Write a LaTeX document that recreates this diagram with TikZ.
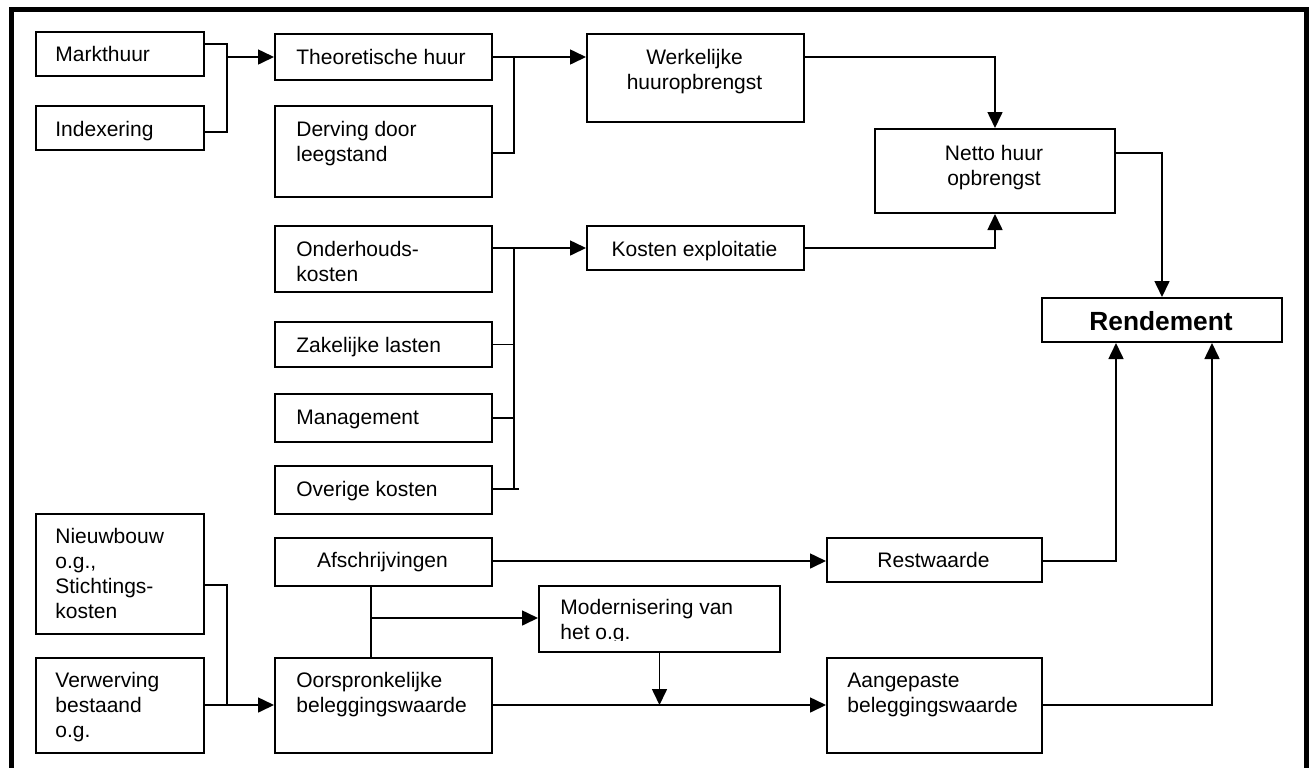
\documentclass[tikz,border=0pt]{standalone}
\usepackage{fontspec}
\setmainfont{Liberation Sans}
\usetikzlibrary{arrows.meta}
% multi-line text blocks whose baseline is that of the first line
\newcommand{\Lt}[1]{\begin{tabular}[t]{@{}l@{}}#1\end{tabular}}
\newcommand{\Ct}[1]{\begin{tabular}[t]{@{}c@{}}#1\end{tabular}}
\begin{document}
\begin{tikzpicture}[x=0.5pt,y=-0.5pt,
  box/.style={draw, line width=1pt, inner sep=0pt, anchor=north west},
  sz/.style 2 args={minimum width=#1*0.5pt, minimum height=#2*0.5pt},
  txt/.style={inner sep=0pt, anchor=base west, font=\fontsize{10.5}{12.5}\selectfont},
  ctxt/.style={inner sep=0pt, anchor=base, font=\fontsize{10.5}{12.5}\selectfont},
  ln/.style={line width=0.8pt},
  arr/.style={line width=0.8pt, -{Triangle[length=8pt,width=7.5pt]}}]
\useasboundingbox (0,0) rectangle (1312,767);

% outer frame (open at the bottom)
\draw[line width=2.2pt, line join=miter] (11.5,780) -- (11.5,9.5) -- (1306.5,9.5) -- (1306.5,780);

% boxes
\node[box, sz={168}{44}]  (mark)  at (35,31)   {};
\node[box, sz={168}{44}]  (idx)   at (35,105)  {};
\node[box, sz={217}{46}]  (theo)  at (274,33)  {};
\node[box, sz={217}{91}]  (derv)  at (274,105) {};
\node[box, sz={217}{88}]  (werk)  at (586,33)  {};
\node[box, sz={240}{84}]  (netto) at (874,128) {};
\node[box, sz={217}{66}]  (onder) at (274,225) {};
\node[box, sz={217}{44}]  (kost)  at (586,225) {};
\node[box, sz={217}{45}]  (zak)   at (274,321) {};
\node[box, sz={217}{48}]  (mgmt)  at (274,393) {};
\node[box, sz={217}{48}]  (over)  at (274,465) {};
\node[box, sz={240}{44}]  (rend)  at (1041,297) {};
\node[box, sz={168}{120}] (nieuw) at (35,513)  {};
\node[box, sz={217}{48}]  (afs)   at (274,537) {};
\node[box, sz={215}{44}]  (rest)  at (826,537) {};
\node[box, sz={241}{66}]  (mod)   at (538,585) {};
\node[box, sz={168}{95}]  (verw)  at (35,657)  {};
\node[box, sz={217}{95}]  (oors)  at (274,657) {};
\node[box, sz={215}{95}]  (aang)  at (826,657) {};

% texts
\node[txt]  (tmark)  at (55,61)    {Markthuur};
\node[txt]  (tidx)   at (55,136)   {Indexering};
\node[txt]  (ttheo)  at (296,64)   {Theoretische huur};
\node[txt]  (tderv)  at (296,136)  {\Lt{Derving door\\leegstand}};
\node[ctxt] (twerk)  at (694.5,64) {\Ct{Werkelijke\\huuropbrengst}};
\node[txt]  (tonder) at (296,256)  {\Lt{Onderhouds-\\kosten}};
\node[ctxt] (tkost)  at (694.5,256) {Kosten exploitatie};
\node[txt]  (tzak)   at (296,352)  {Zakelijke lasten};
\node[ctxt] (tnetto) at (994,160)  {\Ct{Netto huur\\opbrengst}};
\node[inner sep=0pt, anchor=base, font=\fontsize{13.15}{15}\selectfont\bfseries] (trend) at (1161,330) {Rendement};
\node[txt]  (tmgmt)  at (296,424)  {Management};
\node[txt]  (tover)  at (296,496)  {Overige kosten};
\node[txt]  (tnieuw) at (55,543)   {\Lt{Nieuwbouw\\o.g.,\\Stichtings-\\kosten}};
\node[ctxt] (tafs)   at (382.5,567) {Afschrijvingen};
\node[ctxt] (trest)  at (933.5,567) {Restwaarde};
\begin{scope}
  % the text frame of this box cuts off the descenders of its last line
  \clip (538,585) rectangle (779,640.5);
  \node[txt] (tmod) at (560,614) {\Lt{Modernisering van\\het o.g.}};
\end{scope}
\node[txt]  (tverw)  at (55,687)   {\Lt{Verwerving\\bestaand\\o.g.}};
\node[txt]  (toors)  at (296,687)  {\Lt{Oorspronkelijke\\beleggingswaarde}};
\node[txt]  (taang)  at (847,687)  {\Lt{Aangepaste\\beleggingswaarde}};

% junction points
\coordinate (j1a) at (227,44);
\coordinate (j1b) at (227,132);
\coordinate (j1)  at (227,57);
\coordinate (j2a) at (514,57);
\coordinate (j2b) at (514,153);
\coordinate (j3)  at (994,57);
\coordinate (j4)  at (1162,153);
\coordinate (j5a) at (514,248);
\coordinate (j5b) at (514,489);
\coordinate (j6)  at (1116,561);
\coordinate (j7)  at (1212,705);
\coordinate (j8a) at (227,585);
\coordinate (j8b) at (227,705);
\coordinate (j9)  at (371,618);

% rent
\draw[ln] (mark.east |- j1a) -- (j1a) -- (j1b) -- (idx.east |- j1b);
\draw[arr] (j1) -- (theo.west |- j1);
\draw[ln] (theo.east |- j2a) -- (j2a) -- (j2b) -- (derv.east |- j2b);
\draw[arr] (j2a) -- (werk.west |- j2a);
\draw[arr] (werk.east |- j3) -| (netto.north);
\draw[arr] (kost.east |- j5a) -| (netto.south);
\draw[arr] (netto.east |- j4) -| (rend.north);

% operating costs
\draw[ln] (onder.east |- j5a) -- (j5a) -- (j5b);
\draw[arr] (j5a) -- (kost.west |- j5a);
\draw[ln] (zak.east) -- (zak.east -| j5a);
\draw[ln] (mgmt.east) -- (mgmt.east -| j5a);
\draw[ln] (over.east |- j5b) -- ++(26,0);

% investment value
\draw[arr] (afs.east |- j6) -- (rest.west |- j6);
\draw[arr] (rest.east |- j6) -- (j6) -- (rend.south -| j6);
\draw[ln] (nieuw.east |- j8a) -- (j8a) -- (j8b);
\draw[arr] (verw.east |- j8b) -- (oors.west |- j8b);
\draw[ln] (afs.south -| j9) -- (oors.north -| j9);
\draw[arr] (j9) -- (mod.west |- j9);
\draw[arr] (oors.east |- j7) -- (aang.west |- j7);
\draw[arr] (mod.south) -- (mod.south |- j7);
\draw[arr] (aang.east |- j7) -- (j7) -- (rend.south -| j7);
\end{tikzpicture}
\end{document}
